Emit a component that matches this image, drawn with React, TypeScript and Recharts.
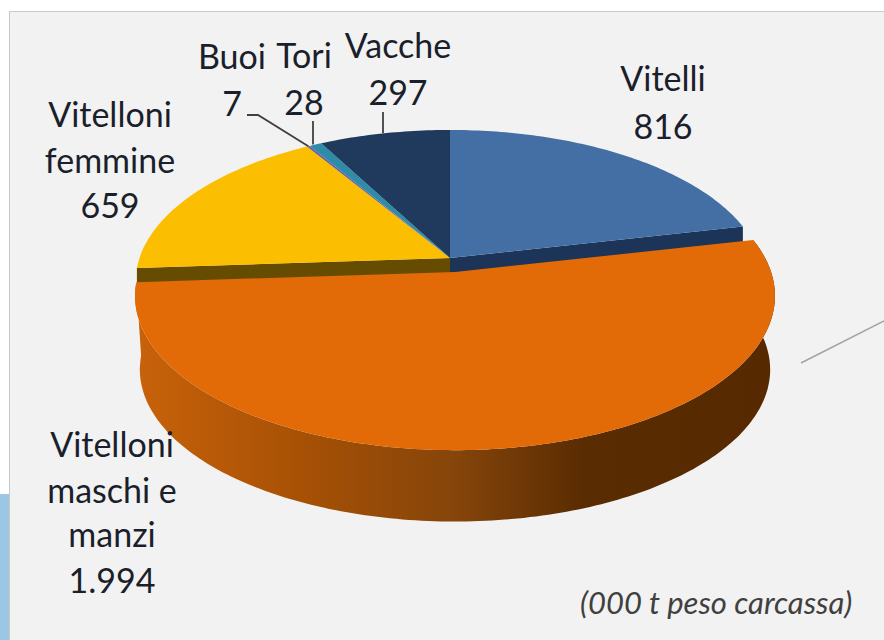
import React from 'react';
import { PieChart, Pie, Cell } from 'recharts';

const categories = [
  'Vitelloni femmine',
  'Buoi',
  'Tori',
  'Vacche',
  'Vitelli',
  'Vitelloni maschi e manzi',
];
const tonnes = [659, 7, 28, 297, 816, 1994];
const tonneLabels = ['659', '7', '28', '297', '816', '1.994'];
const topColors = ['#FBBE00', '#6C5F9F', '#2E8CA8', '#203A5E', '#436FA5', '#E26A07'];

const tableData = categories.map((name, i) => ({ name, value: tonnes[i] }));
const total = tonnes.reduce((a, b) => a + b, 0);
// the first four slices sit left of 12 o'clock, so Vitelli starts at the top
const startAngle = 90 + (360 * (659 + 7 + 28 + 297)) / total;

// perspective look of the tilted disc
const RX = 2.07;
const RY = 0.986;
const TILT = 0.155;
const DEPTH = 74;

const YELLOW = 0;
const BLUE = 4;
const ORANGE = 5;

const project = (cx: number, cy: number, r: number, deg: number, s = 1) => {
  const t = (deg * Math.PI) / 180;
  const x = Math.cos(t);
  const y = -Math.sin(t);
  const w = 1 - TILT * y;
  return { x: cx + (s * r * RX * x) / w, y: cy + (s * r * RY * y) / w };
};

const arc = (cx: number, cy: number, r: number, a0: number, a1: number, s = 1) => {
  const n = Math.max(2, Math.ceil(Math.abs(a1 - a0)));
  const pts = [];
  for (let i = 0; i <= n; i++) pts.push(project(cx, cy, r, a0 + ((a1 - a0) * i) / n, s));
  return pts;
};

const toPath = (pts: { x: number; y: number }[]) =>
  'M' + pts.map((p) => `${p.x.toFixed(1)},${p.y.toFixed(1)}`).join('L') + 'Z';

const Slice3D = (props: any) => {
  const { cx, cy, outerRadius, startAngle: a0, endAngle: a1, index } = props;
  // the big slice is pulled out towards the viewer
  const isOrange = index === ORANGE;
  const x0 = cx + (isOrange ? 5 : 0);
  const y0 = cy + (isOrange ? 14 : 0);
  const s = isOrange ? 1.018 : 1;
  const top = arc(x0, y0, outerRadius, a0, a1, s);
  const apex = { x: x0, y: y0 };

  let wall = null;
  if (isOrange) {
    const low = arc(x0, y0 + DEPTH, outerRadius, a0, a1, s * 0.985);
    wall = <path d={toPath([...top, ...low.slice().reverse()])} fill="url(#orangeWall)" />;
  } else if (index === YELLOW) {
    const edge = top[0];
    wall = <path d={toPath([apex, edge, { x: edge.x, y: edge.y + 20 }, { x: apex.x, y: apex.y + 20 }])} fill="#654C00" />;
  } else if (index === BLUE) {
    const edge = top[top.length - 1];
    wall = <path d={toPath([apex, edge, { x: edge.x, y: edge.y + 20 }, { x: apex.x, y: apex.y + 20 }])} fill="#1B3457" />;
  }

  return (
    <g>
      {wall}
      <path d={toPath([apex, ...top])} fill={topColors[index]} />
    </g>
  );
};

// text lines with their anchor and baselines, same order as categories
const labelSpots = [
  { lines: ['Vitelloni', 'femmine', tonneLabels[0]], x: 110, ys: [127, 173, 218] },
  { lines: ['Buoi', tonneLabels[1]], x: 232, ys: [69, 116], from: [247, 115, 258, 115] },
  { lines: ['Tori', tonneLabels[2]], x: 304, ys: [68, 115], from: [313, 121] },
  { lines: ['Vacche', tonneLabels[3]], x: 398, ys: [58, 105], from: [383, 112] },
  { lines: ['Vitelli', tonneLabels[4]], x: 663, ys: [91, 139] },
  { lines: ['Vitelloni', 'maschi e', 'manzi', tonneLabels[5]], x: 112, ys: [457, 503, 547, 593] },
];

const SliceLabel = (props: any) => {
  const { index, cx, cy, outerRadius, midAngle } = props;
  const spot: any = labelSpots[index];
  let leader = null;
  if (spot.from) {
    const end = project(cx, cy, outerRadius, midAngle);
    const pts = [...spot.from];
    // vertical leaders keep their x, the slanted one ends on the slice
    const endX = spot.from.length === 2 ? spot.from[0] : end.x;
    pts.push(endX, end.y);
    leader = <polyline points={pts.join(',')} fill="none" stroke="#404040" strokeWidth={1.8} />;
  }
  return (
    <g>
      {leader}
      {spot.lines.map((line: string, i: number) => (
        <text
          key={i}
          x={spot.x}
          y={spot.ys[i]}
          textAnchor="middle"
          fontFamily="Lato, sans-serif"
          fontSize={34}
          fill="#1A1F2B"
        >
          {line}
        </text>
      ))}
    </g>
  );
};

const App: React.FC = () => {
  return (
    <div style={{ position: 'absolute', left: 0, top: 0, width: 884, height: 640, background: '#fff', overflow: 'hidden' }}>
      {/* slide background behind the chart */}
      <div style={{ position: 'absolute', left: 0, top: 494, width: 9, height: 146, background: '#9CC7E4' }} />
      <div style={{ position: 'absolute', left: 9, top: 11, width: 875, height: 629, background: '#F2F2F2', borderLeft: '1.5px solid #C9C9C9', borderTop: '1.5px solid #C9C9C9', boxSizing: 'border-box' }} />
      <svg width={884} height={640} style={{ position: 'absolute', left: 0, top: 0 }}>
        <line x1={801} y1={363} x2={884} y2={321} stroke="#A3A3A3" strokeWidth={1.5} />
      </svg>

      <div style={{ position: 'absolute', left: 0, top: 0 }}>
        <PieChart width={884} height={640} margin={{ top: 0, right: 0, bottom: 0, left: 0 }}>
          <defs>
            <linearGradient id="orangeWall" gradientUnits="userSpaceOnUse" x1="136" y1="0" x2="775" y2="0">
              <stop offset="0%" stopColor="#C8620A" />
              <stop offset="25%" stopColor="#A85105" />
              <stop offset="50%" stopColor="#85450A" />
              <stop offset="70%" stopColor="#5A2C02" />
              <stop offset="100%" stopColor="#572900" />
            </linearGradient>
          </defs>
          <Pie
            data={tableData}
            dataKey="value"
            nameKey="name"
            cx={450}
            cy={258}
            innerRadius={0}
            outerRadius={150}
            startAngle={startAngle}
            endAngle={startAngle - 360}
            stroke="none"
            shape={Slice3D}
            label={SliceLabel}
            labelLine={false}
            isAnimationActive={false}
          >
            {tableData.map((d, i) => (
              <Cell key={d.name} fill={topColors[i]} />
            ))}
          </Pie>
        </PieChart>
      </div>

      <div style={{ position: 'absolute', left: 580, top: 583, fontFamily: 'Lato, sans-serif', fontStyle: 'italic', fontSize: 31, color: '#404040', whiteSpace: 'nowrap' }}>
        (000 t peso carcassa)
      </div>
    </div>
  );
};

export default App;
